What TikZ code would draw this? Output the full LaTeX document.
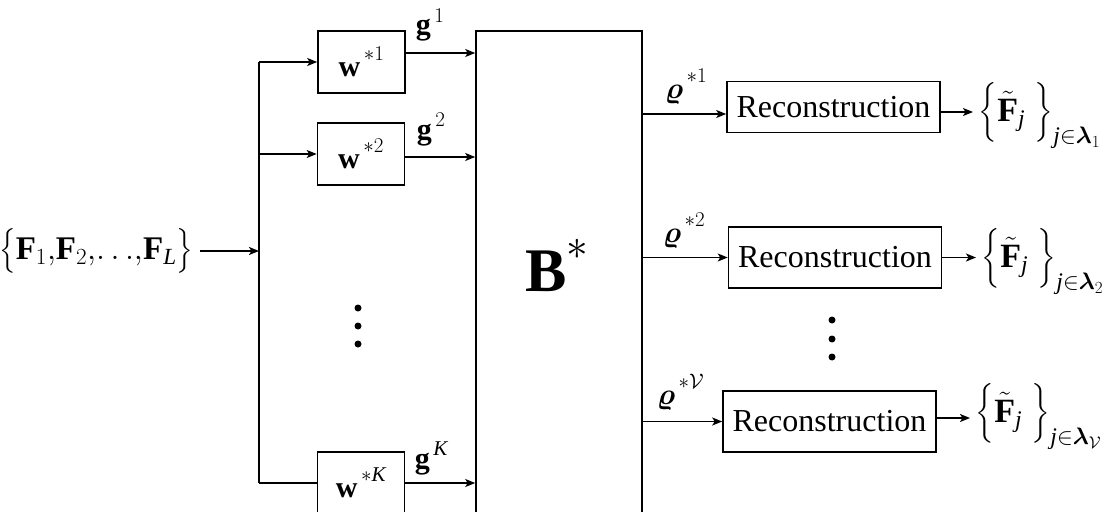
\documentclass[tikz,border=0pt]{standalone}
\usepackage{fix-cm}
\usepackage{amsmath}
\usepackage{fontspec}
\setmainfont{Liberation Serif}
\usetikzlibrary{arrows.meta}
\makeatletter
\newcommand\inbrace{\bBigg@{0.95}}
\newcommand\setbrace{\bBigg@{1.45}}
\makeatother
\newcommand\hsup[2]{^{\raisebox{#1}{$\scriptstyle #2$}}}
\begin{document}
\begin{tikzpicture}[x=1pt,y=-1pt,
  line width=1.6pt,
  arr/.style={-{Stealth[length=10pt,width=8pt,inset=2.5pt]}},
  wbox/.style={draw,minimum width=87pt,minimum height=62pt,inner sep=0pt,font=\fontsize{30}{36}\selectfont},
  rbox/.style={draw,minimum width=213pt,inner sep=0pt,font=\fontsize{32}{38}\selectfont},
  lab/.style={inner sep=0pt,anchor=base west,font=\fontsize{30}{36}\selectfont},
  setlab/.style={inner xsep=5pt,inner ysep=0pt,anchor=base west,font=\fontsize{34}{40}\selectfont}
]
\useasboundingbox (0,0) rectangle (1107,511);
\clip (0,0) rectangle (1107,511);

% input
\node[anchor=east, inner xsep=6pt, inner ysep=0pt, font=\fontsize{33}{40}\selectfont] (in) at (200,251)
  {$\inbrace\{\mathbf{F}_{1}{,}\mathbf{F}_{2}{,}{\ldots}{,}\mathbf{F}_{\mathit{L}}\inbrace\}$};
\coordinate (sp) at (259,251);
\draw[arr] (in.east) -- (sp);

% w boxes
\node[wbox] (w1) at (361.5,62) {$\mathbf{w}\hsup{5pt}{\,*1}$};
\node[wbox] (w2) at (361,154) {$\mathbf{w}\hsup{5pt}{\,*2}$};
\node[wbox] (wK) at (361,483) {$\mathbf{w}\hsup{5pt}{\,*\mathit{K}}$};

\coordinate (t1) at (259,62);
\coordinate (t2) at (259,154);
\coordinate (tK) at (259,483);
\draw (t1) -- (tK);
\draw[arr] (t1) -- (w1);
\draw[arr] (t2) -- (w2);
\draw (tK) -- (wK);

% B box
\node[draw, minimum width=166pt, minimum height=490pt, inner sep=0pt] (B) at (559,276) {};
\node[inner sep=0pt, anchor=base, font=\fontsize{62}{70}\selectfont] (Blab) at (557,291) {$\mathbf{B}\hsup{9pt}{*}$};

\draw[arr] ([yshift=9pt]w1.east) -- ([yshift=9pt]w1.east -| B.west);
\draw[arr] ([yshift=-3pt]w2.east) -- ([yshift=-3pt]w2.east -| B.west);
\draw[arr] (wK.east) -- (wK.east -| B.west);

\node[lab] (g1) at (415,35) {$\mathbf{g}\hsup{2pt}{\,1}$};
\node[lab] (g2) at (416,139) {$\mathbf{g}\hsup{2pt}{\,2}$};
\node[lab] (gK) at (414,468) {$\mathbf{g}\hsup{2pt}{\,\mathit{K}}$};

\fill (358,308) circle (3.5pt);
\fill (358,326) circle (3.5pt);
\fill (358,344) circle (3.5pt);

% reconstruction boxes
\node[rbox, minimum height=51pt] (R1) at (833.5,107) {Reconstruction};
\node[rbox, minimum height=61pt] (R2) at (835,257.5) {Reconstruction};
\node[rbox, minimum height=61pt] (R3) at (829.5,421.5) {Reconstruction};

\draw[arr] ([yshift=-7pt]R1.west -| B.east) -- ([yshift=-7pt]R1.west);
\draw[arr] (R2.west -| B.east) -- (R2.west);
\draw[arr] (R3.west -| B.east) -- (R3.west);

\node[lab] (rho1) at (664,98) {$\boldsymbol{\varrho}\hsup{5pt}{\,*1}$};
\node[lab] (rho2) at (662,242) {$\boldsymbol{\varrho}\hsup{5pt}{\,*2}$};
\node[lab] (rho3) at (656,404) {$\boldsymbol{\varrho}\hsup{5pt}{\,*\mathcal{V}}$};

\fill (832,320) circle (3.5pt);
\fill (832,339) circle (3.5pt);
\fill (832,357) circle (3.5pt);

% output sets
\node[setlab] (S1) at (973,121) {$\setbrace\{\tilde{\mathbf{F}}_{\mathit{j}}\;\setbrace\}_{\mathit{j}\in\boldsymbol{\lambda}_{1}}$};
\node[setlab] (S2) at (976,267) {$\setbrace\{\tilde{\mathbf{F}}_{\mathit{j}}\;\setbrace\}_{\mathit{j}\in\boldsymbol{\lambda}_{2}}$};
\node[setlab] (S3) at (970,422) {$\setbrace\{\tilde{\mathbf{F}}_{\mathit{j}}\;\setbrace\}_{\mathit{j}\in\boldsymbol{\lambda}_{\mathcal{V}}}$};

\draw[arr] ([yshift=-5pt]R1.east) -- ([yshift=-5pt]R1.east -| S1.west);
\draw[arr] (R2.east) -- (R2.east -| S2.west);
\draw[arr] ([yshift=3.5pt]R3.east) -- ([yshift=3.5pt]R3.east -| S3.west);
\end{tikzpicture}
\end{document}
